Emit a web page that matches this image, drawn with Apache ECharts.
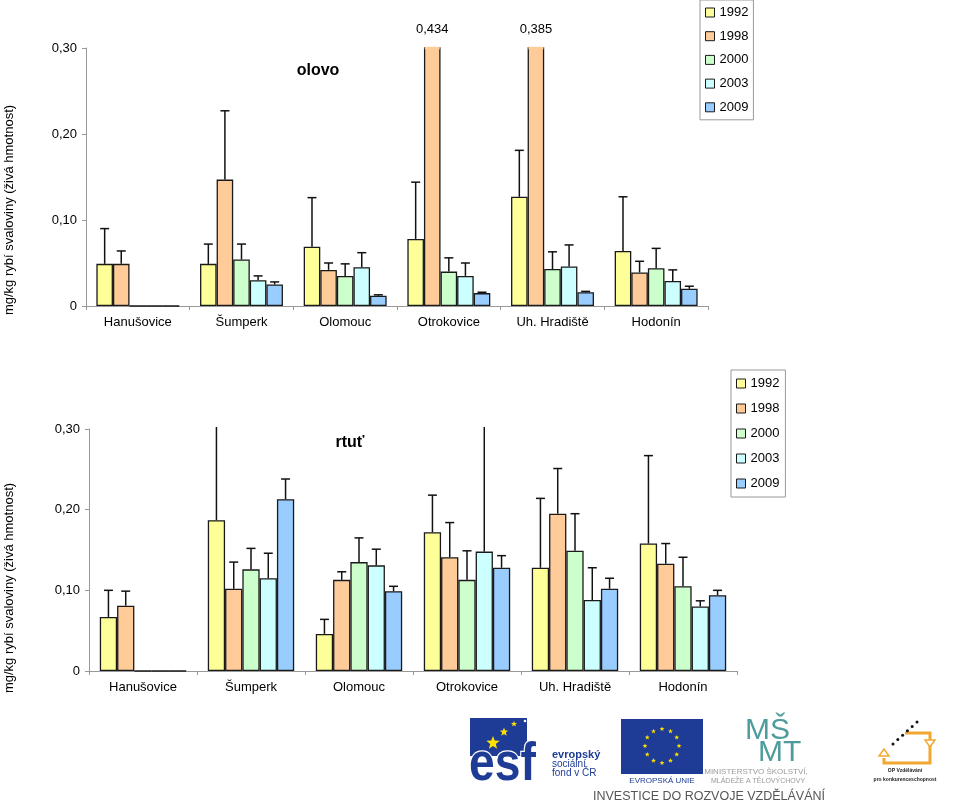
<!DOCTYPE html>
<html>
<head>
<meta charset="utf-8">
<script src="https://cdn.jsdelivr.net/npm/echarts@6/dist/echarts.min.js"></script>
<style>
html,body{margin:0;padding:0;background:#fff;}
#chart{width:960px;height:810px;}
</style>
</head>
<body>
<div id="chart"></div>
<script>
// ---------- DATA ----------
const categories = ['Hanušovice', 'Šumperk', 'Olomouc', 'Otrokovice', 'Uh. Hradiště', 'Hodonín'];
const years = ['1992', '1998', '2000', '2003', '2009'];
const yTicks = [0, 0.1, 0.2, 0.3];

// olovo (lead) – means
const pb1992 = [0.049, 0.049, 0.069, 0.078, 0.127, 0.064];
const pb1998 = [0.049, 0.147, 0.042, 0.434, 0.385, 0.039];
const pb2000 = [0, 0.054, 0.035, 0.040, 0.043, 0.044];
const pb2003 = [0, 0.030, 0.045, 0.035, 0.046, 0.029];
const pb2009 = [0, 0.025, 0.012, 0.015, 0.016, 0.020];
// olovo – upper ends of error bars
const pbUp1992 = [0.090, 0.072, 0.126, 0.144, 0.181, 0.127];
const pbUp1998 = [0.064, 0.227, 0.050, null, null, 0.052];
const pbUp2000 = [null, 0.072, 0.049, 0.056, 0.063, 0.067];
const pbUp2003 = [null, 0.035, 0.062, 0.050, 0.071, 0.042];
const pbUp2009 = [null, 0.028, 0.013, 0.016, 0.017, 0.023];

// rtuť (mercury) – means
const hg1992 = [0.067, 0.187, 0.046, 0.172, 0.128, 0.158];
const hg1998 = [0.081, 0.102, 0.113, 0.141, 0.195, 0.133];
const hg2000 = [0, 0.126, 0.135, 0.113, 0.149, 0.105];
const hg2003 = [0, 0.115, 0.131, 0.148, 0.088, 0.080];
const hg2009 = [0, 0.213, 0.099, 0.128, 0.102, 0.094];
// rtuť – upper ends of error bars
const hgUp1992 = [0.100, 0.330, 0.064, 0.218, 0.214, 0.267];
const hgUp1998 = [0.099, 0.135, 0.123, 0.184, 0.251, 0.158];
const hgUp2000 = [null, 0.152, 0.165, 0.149, 0.195, 0.141];
const hgUp2003 = [null, 0.146, 0.151, 0.330, 0.128, 0.087];
const hgUp2009 = [null, 0.238, 0.105, 0.143, 0.115, 0.100];

const pbMeans = [pb1992, pb1998, pb2000, pb2003, pb2009];
const pbUppers = [pbUp1992, pbUp1998, pbUp2000, pbUp2003, pbUp2009];
const hgMeans = [hg1992, hg1998, hg2000, hg2003, hg2009];
const hgUppers = [hgUp1992, hgUp1998, hgUp2000, hgUp2003, hgUp2009];

// ---------- STYLE ----------
const colors = ['#FFFF99', '#FFCC99', '#CCFFCC', '#CCFFFF', '#99CCFF'];
const FONT = '"Liberation Sans", Arial, sans-serif';
const Y_MAX = yTicks[yTicks.length - 1];
const Y_INT = yTicks[1] - yTicks[0];
const CAT_GAP = 0.2;

function fmtTick(v) {
  if (v === 0) return '0';
  return v.toFixed(2).replace('.', ',');
}

function makeAxes(gi) {
  return {
    x: {
      type: 'category', gridIndex: gi, data: categories,
      axisLine: { lineStyle: { color: '#999', width: 1 } },
      axisTick: { show: true, alignWithLabel: false, length: 4, lineStyle: { color: '#999' } },
      axisLabel: { color: '#000', fontFamily: FONT, fontSize: 13, margin: 10, interval: 0 },
      splitLine: { show: false }
    },
    y: {
      type: 'value', gridIndex: gi, min: 0, max: Y_MAX, interval: Y_INT,
      axisLine: { show: true, lineStyle: { color: '#999', width: 1 } },
      axisTick: { show: true, length: 4, lineStyle: { color: '#999' } },
      axisLabel: { color: '#000', fontFamily: FONT, fontSize: 13, margin: 9, formatter: fmtTick },
      splitLine: { show: false }
    }
  };
}

function errRender(seriesIdx) {
  return function (params, api) {
    const ci = api.value(0);
    const v = api.value(1);
    const e = api.value(2);
    const band = api.size([1, 0])[0];
    const bw = band * (1 - CAT_GAP) / years.length;
    const cx = api.coord([ci, 0])[0] - band * (1 - CAT_GAP) / 2 + bw * (seriesIdx + 0.5);
    const children = [];
    if (v > Y_MAX) {
      // bar continues beyond the plot top: hide the border drawn by the clipped rectangle top
      const yt = api.coord([ci, Y_MAX])[1];
      children.push({ type: 'rect', shape: { x: cx - bw / 2 + 0.8, y: yt - 1.2, width: bw - 1.6, height: 2.6 }, style: { fill: colors[seriesIdx] } });
    }
    if (!(e == null || isNaN(e) || e <= v)) {
      const y0 = api.coord([ci, v])[1];
      const y1 = api.coord([ci, Math.min(e, Y_MAX)])[1] - (e > Y_MAX ? 2 : 0);
      const st = { stroke: '#111', lineWidth: 1.5 };
      children.push({ type: 'line', shape: { x1: cx, y1: y0, x2: cx, y2: y1 }, style: st });
      if (e <= Y_MAX) children.push({ type: 'line', shape: { x1: cx - 4.5, y1: y1, x2: cx + 4.5, y2: y1 }, style: st });
    }
    return { type: 'group', children: children };
  };
}

function buildSeries(gi, means, uppers) {
  const out = [];
  means.forEach((vals, si) => {
    const over = [];
    vals.forEach((v, i) => { if (v > Y_MAX) over.push({ coord: [i, Y_MAX], value: v }); });
    out.push({
      name: years[si], type: 'bar', xAxisIndex: gi, yAxisIndex: gi,
      data: vals, barGap: '0%', barCategoryGap: (CAT_GAP * 100) + '%',
      itemStyle: { color: colors[si], borderColor: '#1a1a1a', borderWidth: 1.3 },
      clip: true, z: 2,
      markPoint: over.length ? {
        symbol: 'rect', symbolSize: 0, silent: true,
        label: {
          show: true, position: 'top', distance: 12, color: '#000',
          fontFamily: FONT, fontSize: 13,
          formatter: p => String(p.value).replace('.', ',')
        },
        data: over
      } : undefined
    });
  });
  means.forEach((vals, si) => {
    out.push({
      name: 'err' + gi + '_' + years[si], type: 'custom', xAxisIndex: gi, yAxisIndex: gi,
      renderItem: errRender(si), clip: false, z: 3, silent: true,
      encode: { x: 0, y: 1 },
      data: vals.map((v, i) => [i, v, uppers[si][i]])
    });
  });
  return out;
}

const a0 = makeAxes(0);
const a1 = makeAxes(1);

// ---------- LOGO DECORATION ----------
function starPoints(cx, cy, r, rot) {
  const pts = [];
  for (let k = 0; k < 10; k++) {
    const ang = -Math.PI / 2 + k * Math.PI / 5 + (rot || 0);
    const rr = k % 2 === 0 ? r : r * 0.42;
    pts.push([cx + rr * Math.cos(ang), cy + rr * Math.sin(ang)]);
  }
  return pts;
}
const euStars = [];
for (let k = 0; k < 12; k++) {
  const ang = k * Math.PI / 6;
  euStars.push({ type: 'polygon', shape: { points: starPoints(662 + 17 * Math.cos(ang), 746 + 17 * Math.sin(ang), 2.6) }, style: { fill: '#FFDD00' } });
}
const opDots = [];
for (let k = 0; k < 6; k++) {
  opDots.push({ type: 'circle', shape: { cx: 893 + k * 4.8, cy: 744 - k * 4.4, r: 1.5 }, style: { fill: '#111' } });
}

const graphics = [
  { type: 'text', style: { x: 318, y: 71, text: 'olovo', font: 'bold 16px ' + FONT, fill: '#000', align: 'center', verticalAlign: 'middle' } },
  { type: 'text', style: { x: 350, y: 443, text: 'rtuť', font: 'bold 16px ' + FONT, fill: '#000', align: 'center', verticalAlign: 'middle' } },
  { type: 'text', x: 9, y: 210, rotation: Math.PI / 2, style: { x: 0, y: 0, text: 'mg/kg rybí svaloviny (živá hmotnost)', font: '13px ' + FONT, fill: '#000', align: 'center', verticalAlign: 'middle' } },
  { type: 'text', x: 9, y: 588, rotation: Math.PI / 2, style: { x: 0, y: 0, text: 'mg/kg rybí svaloviny (živá hmotnost)', font: '13px ' + FONT, fill: '#000', align: 'center', verticalAlign: 'middle' } },
  // ESF logo
  { type: 'rect', shape: { x: 470, y: 718, width: 57, height: 38 }, style: { fill: '#1E3C96' } },
  { type: 'polygon', shape: { points: starPoints(493, 743, 7) }, style: { fill: '#FFE000' } },
  { type: 'polygon', shape: { points: starPoints(504, 732, 4.5) }, style: { fill: '#FFE000' } },
  { type: 'polygon', shape: { points: starPoints(514, 724, 3.2) }, style: { fill: '#FFE000' } },
  { type: 'circle', shape: { cx: 525, cy: 721, r: 1.3 }, style: { fill: '#fff' } },
  { type: 'text', x: 469, y: 792, scaleX: 1.05, scaleY: 1.2, style: { x: 0, y: 0, text: 'esf', font: 'bold 44px ' + FONT, fill: '#1E3C96', stroke: '#fff', lineWidth: 2, align: 'left', verticalAlign: 'bottom' } },
  { type: 'text', style: { x: 552, y: 755, text: 'evropský', font: 'bold 11px ' + FONT, fill: '#1E3C96', verticalAlign: 'middle' } },
  { type: 'text', style: { x: 552, y: 764, text: 'sociální', font: '10px ' + FONT, fill: '#1E3C96', verticalAlign: 'middle' } },
  { type: 'text', style: { x: 552, y: 773, text: 'fond v ČR', font: '10px ' + FONT, fill: '#1E3C96', verticalAlign: 'middle' } },
  // EU flag
  { type: 'rect', shape: { x: 621, y: 719, width: 82, height: 55 }, style: { fill: '#1E3C96' } },
  ...euStars,
  { type: 'text', style: { x: 662, y: 781, text: 'EVROPSKÁ UNIE', font: '8px ' + FONT, fill: '#1E3C96', align: 'center', verticalAlign: 'middle' } },
  // MŠMT
  { type: 'text', style: { x: 745, y: 716, text: 'MŠ', font: '30px ' + FONT, fill: '#4E9C9C', verticalAlign: 'top' } },
  { type: 'text', style: { x: 758, y: 738, text: 'MT', font: '30px ' + FONT, fill: '#4E9C9C', verticalAlign: 'top' } },
  { type: 'text', style: { x: 756, y: 772, text: 'MINISTERSTVO ŠKOLSTVÍ,', font: '8px ' + FONT, fill: '#9a9a9a', align: 'center', verticalAlign: 'middle' } },
  { type: 'text', style: { x: 758, y: 781, text: 'MLÁDEŽE A TĚLOVÝCHOVY', font: '7px ' + FONT, fill: '#9a9a9a', align: 'center', verticalAlign: 'middle' } },
  // OP logo
  { type: 'polyline', shape: { points: [[884, 758], [884, 763], [930, 763], [930, 733], [905, 733]] }, style: { stroke: '#F0A830', lineWidth: 3, fill: null } },
  { type: 'polygon', shape: { points: [[879, 756], [889, 756], [884, 749]] }, style: { stroke: '#F0A830', fill: '#fff', lineWidth: 1.5 } },
  { type: 'polygon', shape: { points: [[925, 740], [935, 740], [930, 747]] }, style: { stroke: '#F0A830', fill: '#fff', lineWidth: 1.5 } },
  ...opDots,
  { type: 'text', style: { x: 905, y: 771, text: 'OP Vzdělávání', font: 'bold 5px ' + FONT, fill: '#222', align: 'center', verticalAlign: 'middle' } },
  { type: 'text', style: { x: 905, y: 780, text: 'pro konkurenceschopnost', font: 'bold 5px ' + FONT, fill: '#222', align: 'center', verticalAlign: 'middle' } },
  { type: 'text', style: { x: 709, y: 797, text: 'INVESTICE DO ROZVOJE VZDĚLÁVÁNÍ', font: '12.5px ' + FONT, fill: '#555', align: 'center', verticalAlign: 'middle' } }
];

const legendBase = {
  orient: 'vertical', icon: 'rect', itemWidth: 9, itemHeight: 9,
  backgroundColor: '#fff', borderColor: '#999', borderWidth: 1, borderRadius: 0,
  textStyle: { color: '#000', fontFamily: FONT, fontSize: 13 },
  itemStyle: { borderColor: '#1a1a1a', borderWidth: 1 },
  selectedMode: false, data: years
};

const option = {
  animation: false,
  backgroundColor: '#fff',
  textStyle: { fontFamily: FONT },
  grid: [
    { left: 86, top: 48, width: 622, height: 258 },
    { left: 89, top: 429, width: 648, height: 242 }
  ],
  xAxis: [a0.x, a1.x],
  yAxis: [a0.y, a1.y],
  legend: [
    Object.assign({}, legendBase, { left: 700, top: 0, padding: [6, 5, 6, 5], itemGap: 10.7 }),
    Object.assign({}, legendBase, { left: 731, top: 370, padding: [7, 6, 7, 5], itemGap: 12 })
  ],
  graphic: graphics,
  series: [].concat(buildSeries(0, pbMeans, pbUppers), buildSeries(1, hgMeans, hgUppers))
};

const chart = echarts.init(document.getElementById('chart'), null, { renderer: 'canvas' });
chart.setOption(option);
</script>
</body>
</html>
